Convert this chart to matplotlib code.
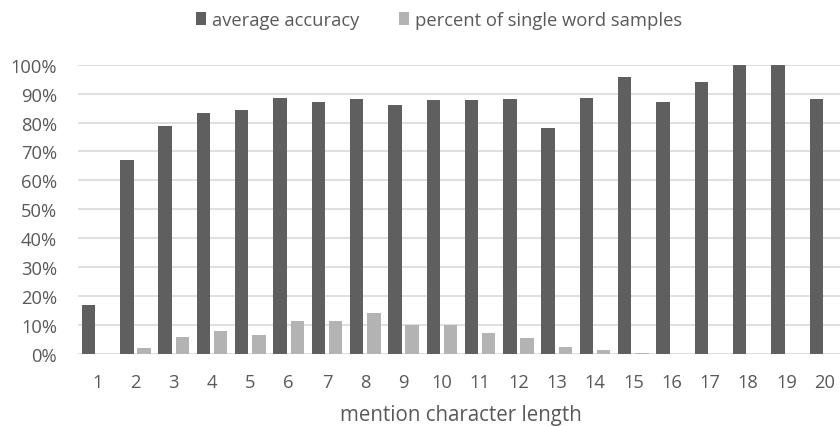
import matplotlib
matplotlib.use("Agg")
import matplotlib.pyplot as plt
from matplotlib.ticker import PercentFormatter
import numpy as np

categories = [str(i) for i in range(1, 21)]
avg_accuracy = [17.0, 67.2, 78.8, 83.4, 84.2, 88.4, 87.2, 88.0, 86.1, 87.7,
                87.7, 88.1, 78.2, 88.4, 95.7, 87.0, 94.1, 100.0, 100.0, 88.1]
single_word_pct = [0.0, 2.0, 5.9, 7.8, 6.7, 11.4, 11.4, 14.1, 9.9, 9.9,
                   7.3, 5.4, 2.5, 1.5, 0.3, 0.0, 0.0, 0.0, 0.0, 0.0]
series_names = ["average accuracy", "percent of single word samples"]

plt.rcParams['font.family'] = ['Open Sans', 'DejaVu Sans']
txt = "#595959"
fig = plt.figure(figsize=(8.4, 4.27), dpi=100)
ax = fig.add_axes([78/840, 72/427, (844-78)/840, (355-65.7)/427])

x = np.arange(1, len(categories) + 1)
w = 0.35
ax.bar(x - 0.225, avg_accuracy, w, color="#5f5f5f", label=series_names[0], zorder=3)
ax.bar(x + 0.225, single_word_pct, w, color="#b3b3b3", label=series_names[1], zorder=3)

ax.set_xlim(0.5, 20.5)
ax.set_ylim(0, 100)
ax.set_yticks(np.arange(0, 101, 10))
ax.yaxis.set_major_formatter(PercentFormatter(decimals=0))
ax.set_xticks(x)
ax.set_xticklabels(categories)
ax.grid(axis='y', color="#d9d9d9", linewidth=1.2, zorder=0)
for s in ax.spines.values():
    s.set_visible(False)
ax.tick_params(length=0, colors=txt, labelsize=13.2)
ax.tick_params(axis='y', pad=15)
ax.tick_params(axis='x', pad=14)
ax.set_xlabel("mention character length", color=txt, fontsize=14.8, labelpad=9)

fig.legend(loc='center', bbox_to_anchor=(439/840, 1 - 21/427), ncol=2, frameon=False,
           fontsize=13.2, labelcolor=txt, handlelength=0.55, handleheight=0.75,
           handletextpad=0.3, columnspacing=2.2, borderpad=0)
fig.savefig("out.png", dpi=100)
